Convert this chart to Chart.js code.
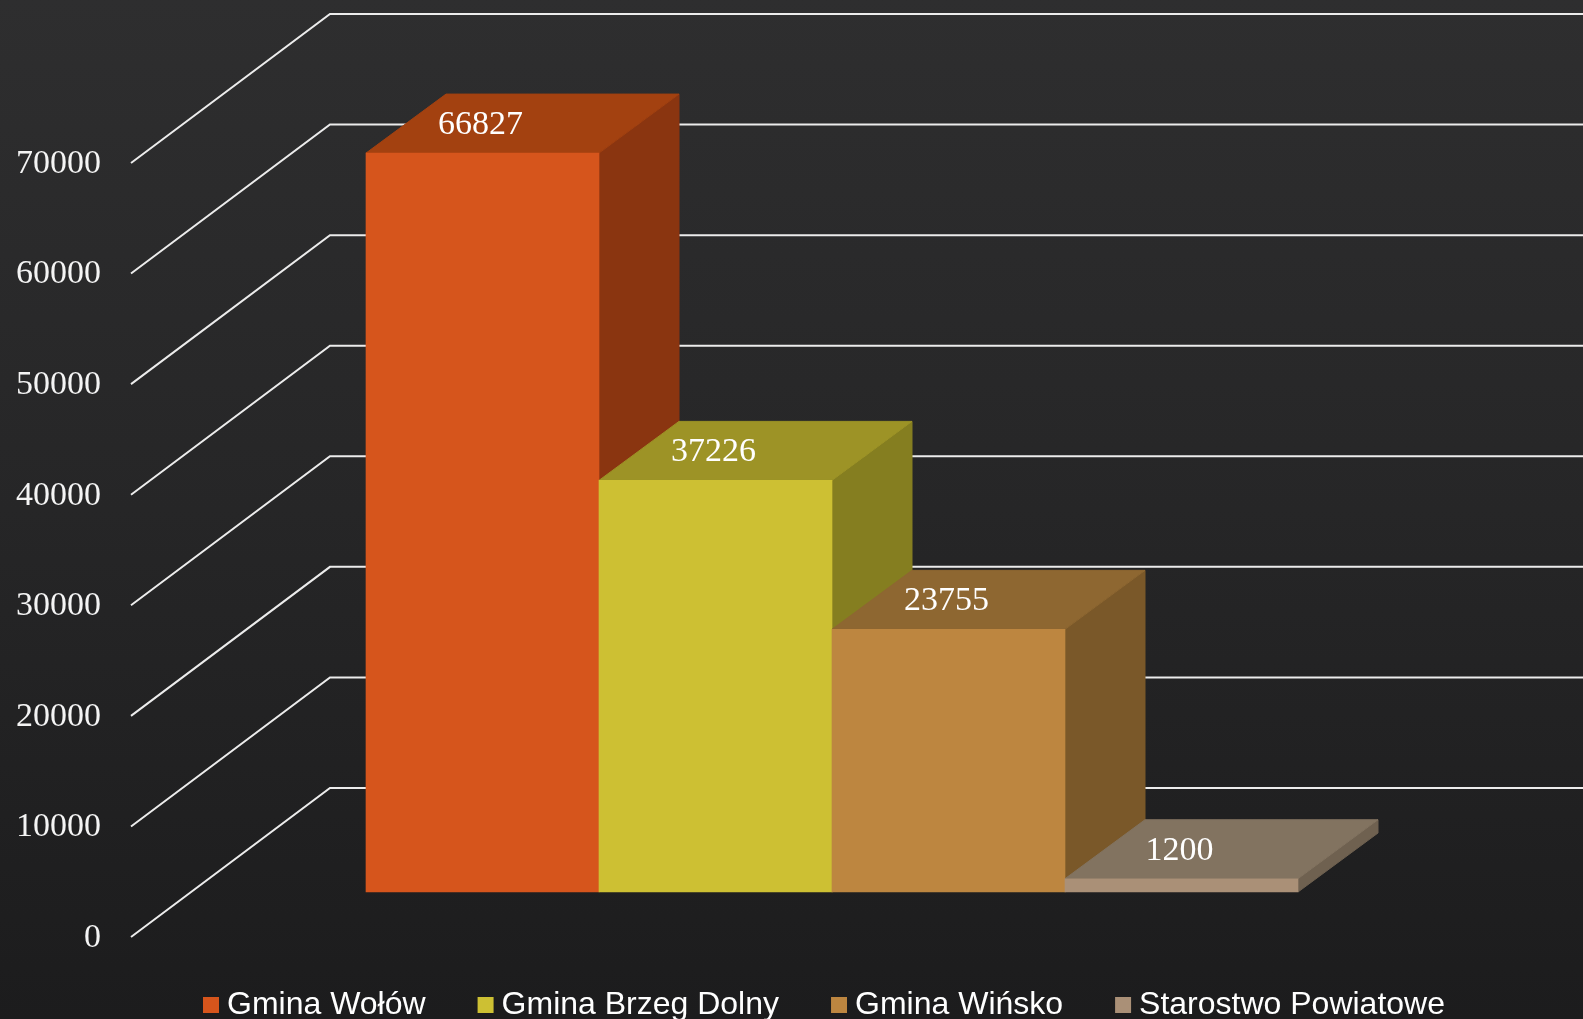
<!DOCTYPE html>
<html>
<head>
<meta charset="utf-8">
<script src="https://cdn.jsdelivr.net/npm/chart.js@4"></script>
<style>
  html, body { margin: 0; padding: 0; }
  body {
    width: 1583px; height: 1019px; overflow: hidden;
    background: linear-gradient(180deg, #2e2e2f 0%, #262627 50%, #1c1c1d 100%);
  }
  canvas { display: block; }
</style>
</head>
<body>
<canvas id="chart" width="1583" height="1019"></canvas>
<script>
// Wartości (dane)
const categories = ['Gmina Wołów', 'Gmina Brzeg Dolny', 'Gmina Wińsko', 'Starostwo Powiatowe'];
const values = [66827, 37226, 23755, 1200];
const yTicks = [0, 10000, 20000, 30000, 40000, 50000, 60000, 70000];

// kolory: przód, góra, bok
const frontColors = ['#d6551c', '#cdc033', '#bd8640', '#aa9077'];
const topColors = ['#a34110', '#9d9326', '#8e6731', '#827360'];
const sideColors = ['#8a3510', '#857e20', '#7a5829', '#6f6150'];

// przesunięcie głębi prostopadłościanu
const DX = 80, DY = -59;

function face(ctx, pts, color) {
    ctx.fillStyle = color;
    ctx.strokeStyle = color;
    ctx.lineWidth = 1;
    ctx.beginPath();
    ctx.moveTo(pts[0][0], pts[0][1]);
    for (let k = 1; k < pts.length; k++) ctx.lineTo(pts[k][0], pts[k][1]);
    ctx.closePath();
    ctx.fill();
    ctx.stroke();
}

const box3d = {
    id: 'box3d',
    // siatka "3D" + etykiety osi
    beforeDatasetsDraw(chart) {
        const { ctx } = chart;
        const y = chart.scales.y;
        ctx.save();
        ctx.strokeStyle = '#ececec';
        ctx.lineWidth = 2;
        ctx.font = '34px "Liberation Serif"';
        ctx.fillStyle = '#f4f4f4';
        ctx.textAlign = 'right';
        ctx.textBaseline = 'middle';
        y.ticks.forEach(t => {
            const py = y.getPixelForValue(t.value);
            ctx.beginPath();
            ctx.moveTo(131, py + 45);
            ctx.lineTo(330, py - 104);
            ctx.lineTo(chart.width, py - 104);
            ctx.stroke();
            ctx.fillText(t.label, 101, py + 46);
        });
        ctx.restore();
    },
    // boki i wierzchy słupków, od lewej do prawej
    afterDatasetsDraw(chart) {
        const { ctx } = chart;
        ctx.save();
        chart.data.datasets.forEach((ds, i) => {
            const bar = chart.getDatasetMeta(i).data[0];
            const { x, y, base, width } = bar.getProps(['x', 'y', 'base', 'width'], true);
            const l = x - width / 2, r = x + width / 2;
            face(ctx, [[r, y], [r + DX, y + DY], [r + DX, base + DY], [r, base]], sideColors[i]);
            face(ctx, [[l, y], [l + DX, y + DY], [r + DX, y + DY], [r, y]], topColors[i]);
            bar.draw(ctx, chart.chartArea);
        });

        // wartości na wierzchu słupków
        ctx.font = '34px "Liberation Serif"';
        ctx.fillStyle = '#ffffff';
        ctx.textAlign = 'center';
        ctx.textBaseline = 'middle';
        chart.data.datasets.forEach((ds, i) => {
            const bar = chart.getDatasetMeta(i).data[0];
            ctx.fillText(String(ds.data[0]), bar.x - 2, bar.y - 28);
        });
        ctx.restore();
    }
};

new Chart(document.getElementById('chart'), {
    type: 'bar',
    data: {
        labels: [''],
        datasets: categories.map((name, i) => ({
            label: name,
            data: [values[i]],
            backgroundColor: frontColors[i],
            borderWidth: 0
        }))
    },
    options: {
        responsive: false,
        animation: false,
        devicePixelRatio: 1,
        categoryPercentage: 1,
        barPercentage: 1,
        layout: { padding: { left: 73, right: 0, top: 118, bottom: 0 } },
        scales: {
            x: {
                grid: { display: false },
                border: { display: false },
                ticks: { display: false },
                afterFit: s => { s.height = 37; }
            },
            y: {
                min: 0,
                max: 70000,
                grid: { display: false },
                border: { display: false },
                ticks: { display: false, callback: v => String(v) },
                afterBuildTicks: s => { s.ticks = yTicks.map(v => ({ value: v })); },
                afterFit: s => { s.width = 293; }
            },
            yR: {
                type: 'linear',
                position: 'right',
                grid: { display: false },
                border: { display: false },
                ticks: { display: false },
                afterFit: s => { s.width = 285; }
            }
        },
        plugins: {
            tooltip: { enabled: false },
            legend: {
                position: 'bottom',
                maxHeight: 90,
                labels: {
                    color: '#ffffff',
                    font: { family: '"Liberation Sans", Arial, sans-serif', size: 32 },
                    usePointStyle: true,
                    pointStyle: 'rect',
                    boxWidth: 0.01,
                    boxHeight: 16,
                    padding: 60
                }
            }
        }
    },
    plugins: [box3d]
});
</script>
</body>
</html>
